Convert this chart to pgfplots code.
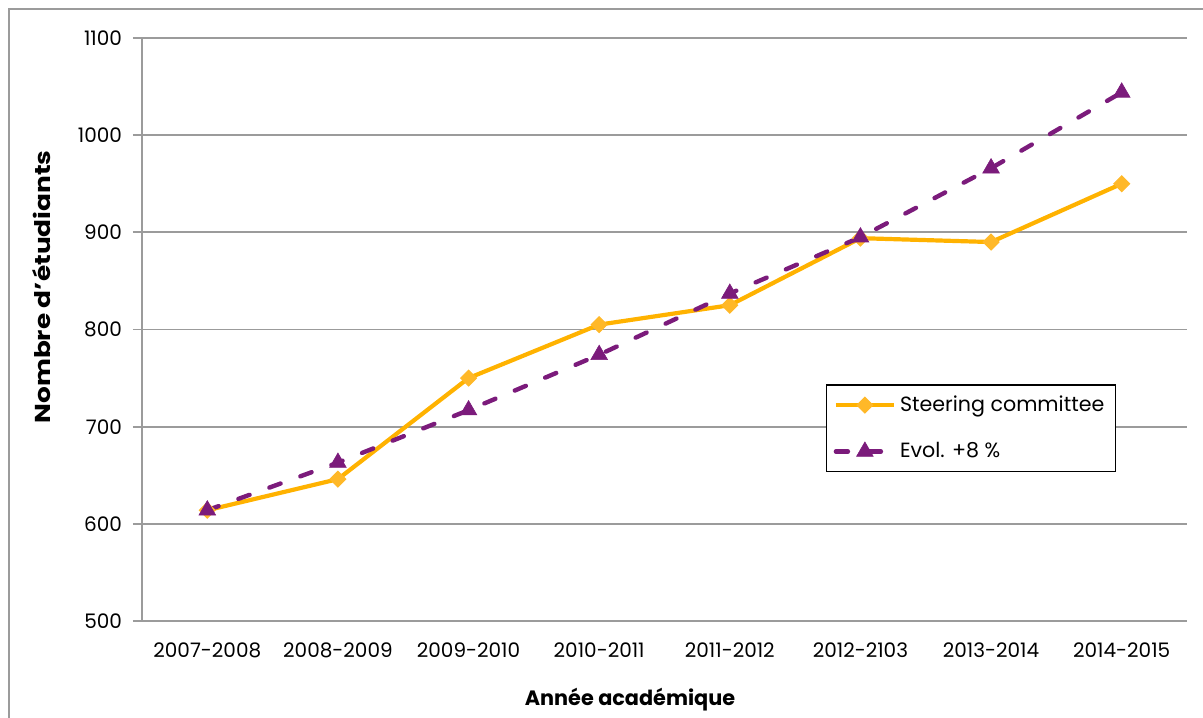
\documentclass[border=0pt]{standalone}
\usepackage{pgfplots}
\pgfplotsset{compat=1.18}
\usepackage{fontspec}
\setmainfont{Poppins}
\definecolor{steer}{RGB}{255,178,0}
\definecolor{steermark}{RGB}{255,184,40}
\definecolor{evol}{RGB}{123,27,123}
\definecolor{gridgray}{RGB}{155,155,155}
\begin{document}
\begin{tikzpicture}
% page area and chart frame
\clip (-71pt,-48pt) rectangle (530.5pt,310.5pt);
\draw[gridgray, line width=0.9pt] (-66.5pt,-80pt) rectangle (560pt,306pt);
\begin{axis}[
  at={(0pt,0pt)}, anchor=south west,
  scale only axis, width=522.5pt, height=291.5pt,
  xmin=-0.5, xmax=7.5, ymin=500, ymax=1100,
  xtick={0,...,7},
  xticklabels={2007-2008,2008-2009,2009-2010,2010-2011,2011-2012,2012-2103,2013-2014,2014-2015},
  minor xtick={-0.5,0.5,...,7.5},
  ytick={500,600,...,1100},
  ymajorgrids,
  major grid style={gridgray, line width=0.95pt},
  axis x line*=bottom, axis y line*=left,
  axis line style={-, gridgray, line width=0.95pt},
  tick align=outside,
  major tick length=4.5pt, minor tick length=4.5pt,
  xtick style={draw=none},
  ytick style={gridgray, line width=0.95pt},
  minor x tick style={gridgray, line width=0.95pt},
  tick label style={font=\fontsize{10}{12}\selectfont, black},
  /pgf/number format/assume math mode=true,
  /pgf/number format/set thousands separator={},
  yticklabel style={xshift=-2pt},
  xticklabel style={yshift=-3pt},
  xlabel={\textbf{Année académique}},
  ylabel={\scalebox{1.22}[1]{\textbf{Nombre d'étudiants}}},
  xlabel style={font=\fontsize{10.4}{12}\selectfont, at={(axis description cs:0.467,-0.1355)}, anchor=center},
  ylabel style={font=\fontsize{10.8}{12}\selectfont, at={(axis description cs:-0.0957,0.573)}, anchor=center},
  legend style={at={(axis description cs:0.6545,0.4065)}, anchor=north west,
    draw=black, line width=0.75pt, fill=white,
    font=\fontsize{10.3}{12}\selectfont,
    inner xsep=3.5pt, inner ysep=3.5pt, row sep=10pt},
  legend cell align=left,
  legend image code/.code={%
    \draw[mark repeat=2,mark phase=2,#1] plot coordinates {(0pt,0pt)(14.5pt,0pt)(29pt,0pt)};},
]
\addplot[steer, line width=2.1pt, mark=square*, mark size=2.8pt,
  mark options={solid, rotate=45, fill=steermark, draw=steermark, line width=0.5pt}]
  coordinates {(0,614) (1,646) (2,750) (3,805) (4,825) (5,894) (6,890) (7,950)};
\addlegendentry{Steering committee}
\addplot[evol, line width=2.2pt, dash pattern=on 6pt off 10.5pt, line cap=round,
  mark=triangle*, mark size=4.8pt,
  mark options={solid, fill=evol, draw=evol, line width=0.3pt}]
  coordinates {(0,614) (1,663) (2,717) (3,774) (4,837) (5,895) (6,966) (7,1044)};
\addlegendentry{Evol. +8~\%}
\end{axis}
\end{tikzpicture}
\end{document}
